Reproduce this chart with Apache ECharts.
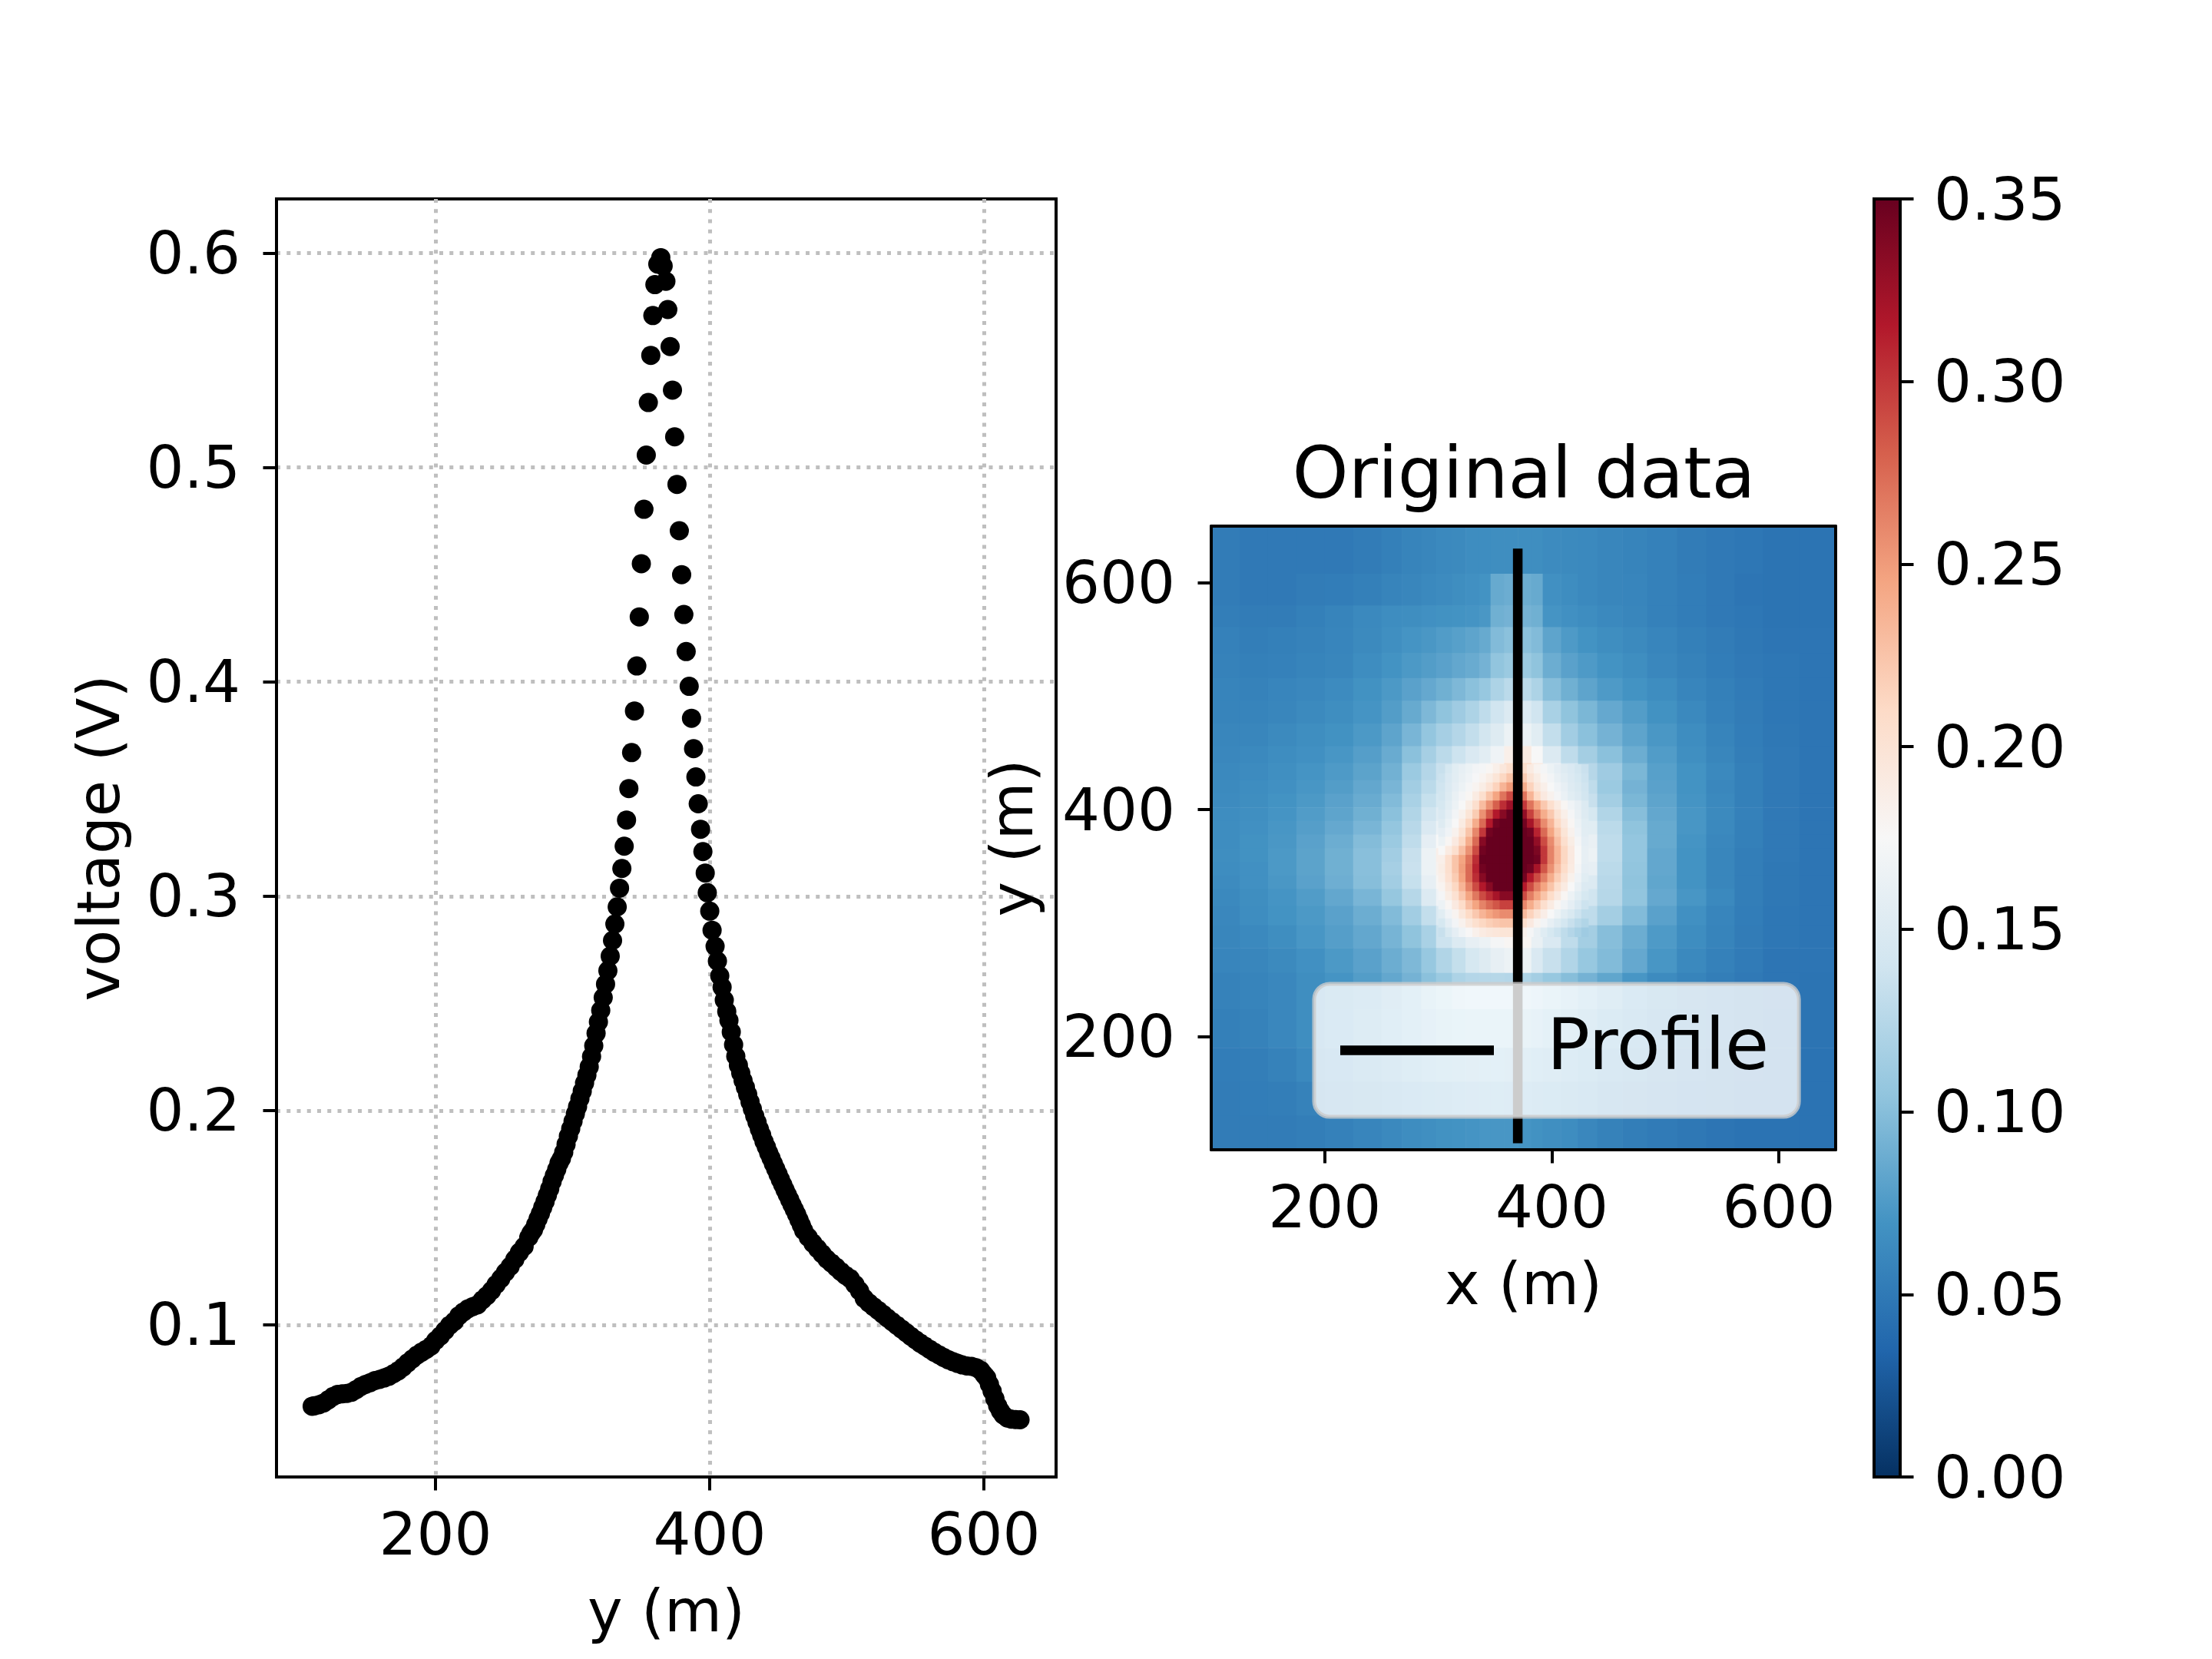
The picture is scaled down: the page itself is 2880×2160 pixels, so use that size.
<!DOCTYPE html>
<html><head><meta charset="utf-8">
<style>html,body{margin:0;padding:0;background:#fff}#c{width:2880px;height:2160px}</style>
<script src="https://cdn.jsdelivr.net/npm/echarts@6/dist/echarts.min.js"></script>
</head><body><div id="c"></div>
<script>
// Left panel: voltage profile
const profileY = [110,111.6,115,118.4,121.8,125.2,128.6,132,135.4,138.8,142.2,145.6,149,152.4,155.8,159.2,162.6,166,169.4,172.8,176.2,179.6,183,186.4,189.8,193.2,196.6,200,203.4,206.8,210.2,213.6,217,220.4,223.8,227.2,230.6,234,237.4,240.8,244.2,247.6,251,254.4,257.8,261.2,264.6,268,
269.7,271.4,273.1,274.8,276.5,278.2,279.9,281.6,283.3,285,286.7,288.4,290.1,291.8,293.5,295.2,296.9,298.6,300.3,302,303.6,305.3,307,308.7,310.4,312.1,313.8,315.4,317.1,318.8,320.5,322.3,324,325.7,327.4,329.1,330.8,332.5,334.2,335.9,337.6,339.3,341,343,345.1,346.8,348.6,350.1,352,353.7,355.2,357,358.5,360,362.1,364.3,366,368,369.4,371.1,372.8,374.4,376.1,377.8,379.5,381.1,382.8,385,386.7,388.2,389.9,391.6,393.3,395,396.7,398.2,400,401.7,403.9,405.6,407.3,409,410.6,412.4,414,415.7,417.4,419,420.9,
422.6,424.3,426,427.7,429.4,431.1,432.8,434.5,436.2,437.9,439.6,441.3,443,444.7,446.4,448.1,449.8,451.5,453.2,454.9,456.6,458.3,460,461.7,463.4,465.1,466.8,468.5,471.9,475.3,478.7,482.1,485.5,488.9,492.3,495.7,499.1,502.5,505.9,509.3,512.7,516.1,519.5,522.9,526.3,529.7,533.1,536.5,539.9,543.3,546.7,550.1,553.5,556.9,560.3,563.7,567.1,570.5,573.9,577.3,580.7,584.1,587.5,590.9,594.3,597.7,600,602,604,606,608,610,612,614,617,620,623,626.3];
const profileV = [.0620,.0622,.0627,.0635,.0650,.0665,.0675,.0678,.0680,.0685,.0698,.0712,.0722,.0730,.0740,.0745,.0752,.0760,.0772,.0785,.0802,.0822,.0840,.0858,.0872,.0885,.0900,.0926,.0947,.0972,.0997,.1015,.1042,.1060,.1075,.1085,.1093,.1115,.1135,.1159,.1188,.1215,.1245,.1272,.1305,.1338,.1365,.1408,
.1428,.1443,.1468,.1495,.1520,.1548,.1575,.1605,.1635,.1668,.1697,.1725,.1755,.1775,.1805,.1842,.1880,.1915,.1950,.1985,.2018,.2055,.2090,.2128,.2165,.2204,.2252,.2302,.2360,.2413,.2467,.2527,.2589,.2652,.2720,.2793,.2870,.2950,.3037,.3129,.3233,.3355,.3502,.3670,.3864,.4074,.4303,.4551,.4805,.5058,.5303,.5523,.5709,.5853,.5949,.5979,.5940,.5869,.5737,.5564,.5361,.5143,.4921,.4705,.45,.4314,.4141,.3979,.383,.3688,.3556,.3431,.3312,.3208,.3108,.3016,.2930,.2841,.2766,.2697,.2628,.2575,.2515,.2462,.2420,.2366,.2307,.2253,.2211,
.2175,.2140,.2108,.2075,.2040,.2007,.1975,.1945,.1913,.1885,.1855,.1830,.1802,.1778,.1752,.1728,.1703,.1678,.1654,.1630,.1607,.1584,.1560,.1538,.1515,.1490,.1465,.1440,.1408,.1380,.1355,.1330,.1306,.1287,.1268,.1248,.1230,.1215,.1188,.1158,.1123,.1102,.1084,.1067,.1049,.1031,.1014,.0997,.0980,.0963,.0946,.0930,.0914,.0900,.0886,.0872,.0860,.0848,.0837,.0828,.0820,.0813,.0808,.0806,.0800,.0787,.0768,.0753,.0722,.0690,.0655,.0622,.0598,.0580,.0565,.0560,.0558,.0557];
const xTicks = [200,400,600];
const vTicks = [0.1,0.2,0.3,0.4,0.5,0.6];
const heatTicks = [200,400,600];

// Right panel: map cell edges (m) and values (thousandths)
const xEdges = [100,125,150,175,200,225,250,268,285,298,312,324,336,346,358,370,382,392,408,423,440,462,484,510,536,561,586,618,650];
const yEdges = [650,608,580,561,538,516,496,476,456,441,426,414,402,390,378,366,354,342,330,315,298,278,256,224,190,160,130,100];
const heat = [
[52,50,50,50,50,52,55,58,60,62,63,65,65,66,66,66,66,64,63,62,60,58,56,52,50,48,46,46],
[52,50,50,52,53,55,58,60,62,64,66,68,70,86,88,88,86,68,65,62,60,59,56,53,50,47,46,46],
[54,52,52,55,58,62,65,66,68,69,70,71,73,90,92,92,90,71,68,65,62,60,56,53,50,48,46,46],
[56,54,55,57,59,63,67,71,73,76,79,82,86,98,102,102,98,82,75,70,66,63,59,55,52,49,47,47],
[57,55,56,58,60,65,70,74,77,80,84,87,92,105,110,110,104,88,80,75,70,66,61,57,53,50,48,47],
[58,57,59,61,64,69,74,80,85,90,96,102,108,120,128,128,120,100,90,82,75,70,65,59,55,51,48,47],
[58,58,60,63,66,71,77,86,96,104,112,120,130,140,150,150,140,118,104,95,85,77,69,62,56,52,48,47],
[60,60,63,66,69,74,82,94,106,116,124,132,142,152,165,165,155,132,114,102,92,82,73,65,58,53,49,47],
[61,62,65,68,72,78,87,102,116,128,138,148,156,168,185,190,175,150,130,115,102,88,76,67,60,54,50,47],
[62,64,67,71,75,81,91,110,124,136,150,162,170,184,205,210,190,165,145,125,112,95,79,70,62,55,50,47],
[63,65,68,72,77,84,94,114,128,140,150,160,170,185,205,205,190,165,145,130,110,92,80,70,61,55,50,47],
[64,66,70,74,80,87,98,118,134,145,160,170,185,205,225,225,205,180,158,135,115,95,82,71,62,55,50,47],
[65,67,71,76,82,90,102,122,140,154,170,185,215,270,300,270,235,200,170,145,122,100,84,72,63,56,50,47],
[65,68,72,78,85,94,106,126,148,163,183,215,290,345,350,335,280,225,185,155,128,104,86,72,62,55,50,47],
[65,69,73,80,88,99,110,130,158,175,195,250,340,350,350,350,320,240,195,162,130,106,86,71,61,55,50,47],
[66,69,74,81,90,101,114,135,165,185,205,285,350,350,350,350,335,250,195,165,130,106,84,70,60,54,50,47],
[65,68,74,81,90,101,116,136,165,182,212,300,350,350,350,340,290,225,182,160,128,105,84,70,60,54,49,47],
[64,68,73,80,89,100,114,134,160,178,210,270,330,350,340,300,245,200,170,150,126,104,83,70,60,54,49,47],
[62,66,71,76,84,94,107,125,150,168,195,232,275,300,285,250,210,178,152,140,125,105,85,72,62,54,49,47],
[61,65,70,74,80,88,98,114,132,150,178,198,215,222,215,200,180,160,140,130,115,98,80,68,59,53,48,47],
[60,62,66,72,78,84,93,104,118,138,150,160,165,172,178,178,162,148,130,115,100,88,75,65,58,52,48,47],
[59,60,63,68,74,80,88,96,108,122,133,145,152,160,165,165,148,135,122,108,98,85,72,62,56,51,47,47],
[57,58,61,66,71,77,84,92,102,110,120,124,125,125,124,120,115,108,100,92,83,72,64,58,54,50,47,46],
[55,57,61,66,72,78,85,92,98,102,105,107,108,108,107,104,100,95,89,83,75,69,62,56,52,48,46,46],
[53,54,57,62,66,71,76,81,85,88,90,91,92,92,91,89,86,83,79,74,68,63,58,53,50,47,46,45],
[52,53,54,57,60,64,68,72,75,77,79,80,81,81,80,79,77,74,71,67,62,58,54,51,48,46,45,45],
[52,52,52,54,56,59,62,65,67,69,70,71,72,72,72,71,69,67,65,61,57,54,51,49,47,45,45,45]];
// finer cells over the hot core
const coreXEdges = [300,306,312,318,324,330,336,342,348,354,360,366,372,378,384,390,396,402,408,414,420,426,432];
const coreYEdges = [440,432,424,416,408,400,392,384,376,368,360,352,344,336,328,320,312,304,296,288];
const coreHeat = [
[135,145,155,160,165,170,172,178,185,195,205,210,205,190,180,172,165,158,152,148,142,136],
[138,148,156,162,168,174,180,188,198,212,225,230,220,200,188,178,170,162,156,150,145,138],
[140,150,158,165,172,180,188,200,215,235,250,255,240,215,195,185,175,168,160,152,147,140],
[142,152,162,170,178,190,205,225,245,270,290,290,270,235,210,192,182,172,163,155,150,142],
[145,155,165,175,188,205,230,255,280,305,325,330,300,270,245,222,205,190,178,168,160,150],
[148,158,170,182,198,220,255,285,315,335,350,350,330,295,265,240,222,200,185,172,162,152],
[152,163,175,190,212,240,275,315,345,350,350,350,345,320,290,258,235,210,192,178,165,155],
[158,168,182,200,225,260,300,345,350,350,350,350,350,345,310,275,245,220,198,182,168,156],
[165,178,192,212,240,275,335,350,350,350,350,350,350,350,330,290,258,228,205,188,172,158],
[175,190,205,228,255,290,345,350,350,350,350,350,350,350,340,300,262,235,212,192,175,160],
[185,205,225,245,270,305,350,350,350,350,350,350,350,350,345,300,262,235,212,192,175,160],
[188,205,225,248,275,310,345,350,350,350,350,350,350,345,320,285,255,228,208,190,172,158],
[185,202,220,245,275,305,335,350,350,350,350,350,345,315,290,265,240,218,200,183,168,155],
[180,195,212,235,262,290,315,335,350,350,350,340,315,290,265,245,225,205,190,175,162,150],
[172,188,202,222,245,268,290,305,320,335,335,315,290,265,245,225,208,192,178,165,155,145],
[165,178,192,208,228,245,262,275,285,295,295,280,260,240,222,205,190,178,168,158,148,138],
[155,168,180,195,210,222,235,245,252,258,258,245,232,215,200,187,175,165,155,147,138,130],
[145,158,170,182,194,204,212,218,222,225,225,215,205,192,180,170,160,152,143,135,128,122],
[135,147,158,168,176,184,190,194,196,198,198,190,182,172,162,153,145,138,130,124,118,112]];
const profileLineX = [370,370];
const profileLineY = [110,626];
const colorbarTicks = [0,0.05,0.1,0.15,0.2,0.25,0.3,0.35];
const rdbu = ['#053061','#2166ac','#4393c3','#92c5de','#d1e5f0','#f7f7f7','#fddbc7','#f4a582','#d6604d','#b2182b','#67001f'];

const FONT = 'DejaVu Sans', FS = 77;
const cells = [];
heat.forEach((row,j)=>row.forEach((v,i)=>cells.push([xEdges[i],xEdges[i+1],yEdges[j+1],yEdges[j],v])));
coreHeat.forEach((row,j)=>row.forEach((v,i)=>cells.push([coreXEdges[i],coreXEdges[i+1],coreYEdges[j+1],coreYEdges[j],v])));

function ax(o,margin,dec){
  const label={show:true,color:'#000',fontFamily:FONT,fontSize:FS,margin:margin};
  if(dec!==undefined){
    label.formatter=v=>'{a|'+Number(v).toFixed(dec)+'}';
    label.rich={a:{color:'#000',fontFamily:FONT,fontSize:FS,padding:[13,0,0,0]}};
  }
  return Object.assign({
    type:'value',
    axisLine:{show:true,onZero:false,lineStyle:{color:'#000',width:4}},
    axisTick:{show:true,length:17.5,lineStyle:{color:'#000',width:4}},
    axisLabel:label,
    splitLine:{show:false},
    nameLocation:'middle',
    nameTextStyle:{color:'#000',fontFamily:FONT,fontSize:FS}
  },o);
}
const dotted={show:true,lineStyle:{color:'#bfbfbf',width:5,type:[5,8.25]}};
function withTicks(o,t){
  o.axisTick=Object.assign({},o.axisTick,{customValues:t});
  o.axisLabel=Object.assign({},o.axisLabel,{customValues:t});
  return o;
}
const frame=(o)=>Object.assign({type:'value',z:10,axisLine:{show:true,onZero:false,lineStyle:{color:'#000',width:4}},axisTick:{show:false},axisLabel:{show:false},splitLine:{show:false}},o);

const option={
  animation:false,
  backgroundColor:'#fff',
  textStyle:{fontFamily:FONT},
  title:{text:'Original data',left:1979,top:572,textAlign:'center',textStyle:{fontFamily:FONT,fontSize:93,fontWeight:'normal',color:'#000'}},
  legend:{show:true,selectedMode:false,data:[{name:'Profile',icon:'rect',itemStyle:{color:'#000'}}],left:1711,top:1281,padding:[40,39,40,34],itemWidth:200,itemHeight:12.5,
    backgroundColor:'rgba(255,255,255,0.8)',borderColor:'rgba(204,204,204,0.8)',borderWidth:5,borderRadius:20,z:8,
    textStyle:{fontFamily:FONT,fontSize:93,color:'#000',padding:[0,0,0,64]}},
  grid:[
    {left:360,top:259,width:1015,height:1664,show:true,borderColor:'#000',borderWidth:4,backgroundColor:'#fff',containLabel:false},
    {left:1577,top:685,width:813,height:812,containLabel:false},
    {left:2440,top:259,width:34,height:1664,containLabel:false}
  ],
  xAxis:[
    withTicks(ax({gridIndex:0,min:84,max:652.6,interval:200,name:'y (m)',nameGap:142,splitLine:dotted},42),xTicks),
    withTicks(ax({gridIndex:1,z:10,min:100,max:650,interval:200,name:'x (m)',nameGap:142},42),heatTicks),
    frame({gridIndex:1,min:100,max:650,position:'top'}),
    {type:'value',gridIndex:2,min:0,max:1,show:false}
  ],
  yAxis:[
    withTicks(ax({gridIndex:0,min:0.029,max:0.6253,interval:0.1,name:'voltage (V)',nameGap:187,splitLine:dotted},47,1),vTicks),
    withTicks(ax({gridIndex:1,z:10,min:100,max:650,interval:200,name:'y (m)',nameGap:215},47,0),heatTicks),
    frame({gridIndex:1,min:100,max:650,position:'right'}),
    withTicks(ax({gridIndex:2,position:'right',min:0,max:0.35,interval:0.05},44,2),colorbarTicks)
  ],
  visualMap:{type:'continuous',show:false,min:0,max:350,dimension:4,seriesIndex:1,inRange:{color:rdbu}},
  series:[
    {type:'scatter',xAxisIndex:0,yAxisIndex:0,symbolSize:25,itemStyle:{color:'#000',opacity:1},z:3,data:profileY.map((y,i)=>[y,profileV[i]])},
    {type:'custom',xAxisIndex:1,yAxisIndex:1,z:2,encode:{x:[0,1],y:[2,3]},data:cells,
      renderItem(p,api){
        const a=api.coord([api.value(0),api.value(3)]),b=api.coord([api.value(1),api.value(2)]);
        return {type:'rect',shape:{x:a[0],y:a[1],width:b[0]-a[0]+0.6,height:b[1]-a[1]+0.6},style:{fill:api.visual('color')}};
      }},
    {type:'line',name:'Profile',xAxisIndex:1,yAxisIndex:1,z:3,symbol:'none',lineStyle:{color:'#000',width:12.5,cap:'square'},itemStyle:{color:'#000'},data:profileLineX.map((x,i)=>[x,profileLineY[i]])},
    {type:'custom',xAxisIndex:3,yAxisIndex:3,z:2,clip:false,encode:{x:[0,1],y:[2,3]},data:[[0,1,0,0.35]],
      renderItem(p,api){
        const a=api.coord([api.value(0),api.value(3)]),b=api.coord([api.value(1),api.value(2)]);
        const stops=rdbu.map((c,i)=>({offset:i/(rdbu.length-1),color:c}));
        return {type:'rect',shape:{x:a[0],y:a[1],width:b[0]-a[0],height:b[1]-a[1]},style:{fill:new echarts.graphic.LinearGradient(0,1,0,0,stops),stroke:'#000',lineWidth:4}};
      }}
  ]
};
const chart=echarts.init(document.getElementById('c'),null,{renderer:'canvas',width:2880,height:2160,devicePixelRatio:1});
chart.setOption(option);
</script></body></html>
